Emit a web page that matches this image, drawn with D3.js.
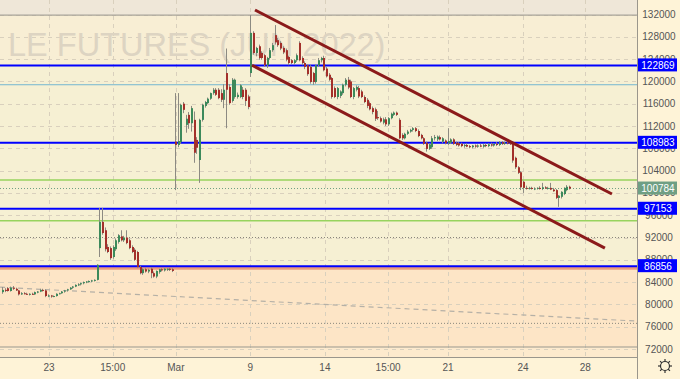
<!DOCTYPE html>
<html>
<head>
<meta charset="utf-8">
<script src="https://cdn.jsdelivr.net/npm/d3@7"></script>
<style>
	body { margin: 0; background: #fef3d7; }
	svg { display: block; }
	text { font-family: "Liberation Sans Narrow", "Liberation Sans", Arial, sans-serif; }
</style>
</head>
<body>
<div id="chart"></div>
<script>
// candles: [open, high, low, close]
const candles = [
	[82200, 83100, 81900, 82600], [82600, 82900, 82200, 82500], [82900, 83100, 82300, 82400], [82400, 83200, 82300, 83000],
	[83000, 83300, 82600, 82800], [82800, 83000, 82400, 82500], [82500, 82600, 81600, 81800], [81800, 82200, 81700, 82000],
	[82000, 82200, 81800, 81900], [81900, 82100, 81700, 81800], [81800, 82000, 81600, 81900], [81900, 82100, 81700, 81800],
	[81800, 82300, 81700, 82200], [82200, 82400, 82000, 82300], [82300, 82800, 82200, 82600], [82600, 82800, 82300, 82500],
	[82500, 82700, 81300, 81500], [81500, 81800, 81300, 81600], [81600, 81700, 81200, 81400], [81400, 81600, 81300, 81500],
	[81500, 82000, 81400, 81900], [81900, 82100, 81800, 82000], [82000, 82400, 81900, 82300], [82300, 82600, 82100, 82500],
	[82500, 82800, 82300, 82700], [82700, 83100, 82600, 83000], [83000, 83300, 82800, 83200], [83200, 83600, 83100, 83500],
	[83500, 83800, 83300, 83600], [83600, 83900, 83400, 83800], [83800, 84100, 83600, 84000], [84000, 84200, 83800, 84100],
	[84100, 84300, 83900, 84200], [84200, 84400, 84000, 84300], [84300, 84500, 84100, 84400], [84400, 87200, 84300, 87100],
	[90100, 97300, 88500, 94800], [94800, 97300, 92500, 92800], [93300, 93800, 89500, 89900], [90300, 90800, 89200, 89400],
	[90100, 90400, 88000, 88300], [88500, 90600, 88200, 90300], [89900, 91800, 89600, 91500], [91200, 92600, 90900, 92400],
	[92200, 93300, 91300, 91500], [91500, 92300, 91200, 92000], [92000, 93300, 90800, 91000], [91500, 91800, 89900, 90100],
	[90300, 90600, 89200, 89400], [89800, 90100, 87800, 88000], [89400, 89600, 86500, 86700], [86700, 86900, 85400, 85600],
	[85600, 86500, 85300, 86300], [86300, 86600, 85700, 85900], [85900, 86400, 85600, 86200], [86400, 86700, 84700, 85600],
	[85600, 85900, 84800, 85000], [85000, 86100, 84700, 86000], [85800, 86400, 85500, 86300], [86300, 86500, 85900, 86100],
	[86100, 86500, 85900, 86400], [86200, 86500, 86000, 86400], [86400, 86600, 86000, 86200], [86300, 86500, 85800, 86000],
	[109200, 117900, 100500, 108600], [108600, 117900, 108200, 109300], [109100, 116000, 108800, 115800], [116000, 116300, 114300, 114900],
	[112200, 114000, 110800, 113300], [114000, 114500, 111500, 112500], [112500, 115600, 111000, 115200], [113100, 114600, 105400, 107200],
	[109500, 110000, 107000, 108100], [105900, 113300, 101800, 113100], [113100, 116000, 112800, 115800], [115600, 116500, 115300, 116300],
	[116100, 117100, 115900, 116900], [116900, 118000, 116700, 117900], [117900, 118800, 117600, 118500], [118500, 118800, 117400, 117600],
	[118500, 118800, 116800, 117000], [117900, 118600, 116300, 116700], [116700, 119500, 115200, 118500], [121500, 125900, 111600, 118500],
	[119000, 119500, 115800, 116100], [116500, 120600, 116200, 120300], [117200, 120500, 116900, 120300], [117200, 118000, 116900, 117600],
	[117200, 119500, 117000, 119300], [118500, 119000, 116800, 117200], [118500, 118800, 115600, 116500], [117300, 117600, 115000, 115400],
	[121500, 131900, 120800, 128700], [128700, 129000, 124800, 125100], [125100, 126200, 124500, 126000], [126300, 126600, 123900, 124200],
	[125100, 125400, 123900, 124200], [124700, 124900, 122600, 122900], [122900, 124400, 122400, 124200], [124200, 126000, 123900, 125600],
	[125600, 126900, 125300, 126500], [128300, 130100, 126600, 127000], [127400, 127800, 126200, 126500], [126900, 127200, 125600, 125900],
	[126000, 126300, 124900, 125200], [125600, 125900, 123600, 123900], [124400, 124600, 122900, 123300], [123800, 124000, 123100, 123300],
	[123300, 124000, 123000, 123800], [123800, 125000, 123500, 124700], [126900, 127200, 123600, 123800], [124200, 124500, 122900, 123300],
	[123300, 123600, 122200, 122600], [122900, 123100, 121000, 121300], [122600, 122900, 119600, 119900], [121500, 121700, 119400, 119900],
	[119900, 123000, 119600, 122900], [122900, 124200, 122600, 123800], [123800, 124400, 123400, 124200], [124200, 124600, 121800, 122000],
	[122300, 122600, 120700, 120900], [121200, 121500, 120100, 120300], [120600, 120800, 116900, 117200], [118800, 119100, 117000, 117200],
	[117200, 119000, 116800, 118800], [117400, 118400, 117000, 118200], [117900, 119600, 117600, 119400], [119400, 120600, 119100, 120300],
	[120300, 120800, 118600, 118900], [120000, 120300, 117000, 117200], [117200, 119000, 116800, 118800], [118500, 119300, 118200, 119000],
	[118800, 119200, 117000, 117300], [118200, 118500, 117000, 117200], [117200, 117500, 116100, 116300], [116700, 117000, 115200, 115600],
	[116100, 116400, 114800, 115000], [115200, 115500, 114100, 114500], [115000, 115300, 112900, 113300], [113600, 114700, 113100, 113400],
	[113400, 113700, 112600, 112800], [112600, 113500, 112300, 113200], [113200, 113600, 112000, 112300], [112300, 113600, 112000, 113400],
	[113400, 114400, 113200, 114200], [114000, 114600, 113800, 114400], [114400, 114600, 113800, 114000], [113100, 113400, 109600, 109800],
	[110400, 110700, 109500, 109800], [109800, 110800, 109600, 110600], [110600, 111300, 110400, 111000], [111000, 111500, 110800, 111300],
	[111300, 111800, 111000, 111600], [111600, 111800, 110900, 111100], [111100, 111400, 110000, 110200], [110400, 110600, 109600, 109800],
	[109800, 110000, 108600, 108800], [109000, 109200, 107400, 107900], [107900, 108900, 107700, 108700], [108200, 110200, 107900, 109800],
	[109800, 110400, 109400, 110000], [109600, 110300, 109300, 110100], [110000, 110300, 109400, 109600], [109200, 110000, 108900, 109800],
	[109400, 109600, 108700, 108900], [108900, 111600, 108600, 109300], [109000, 109800, 108800, 109600], [109600, 109800, 108600, 108800],
	[109000, 109200, 108400, 108600], [108900, 109100, 108300, 108500], [108800, 109000, 108200, 108400], [108400, 108800, 108100, 108600],
	[108600, 108900, 108200, 108300], [108400, 108600, 108000, 108200], [108200, 108600, 108000, 108500], [108500, 108700, 108100, 108300],
	[108300, 108700, 108100, 108500], [108500, 108800, 108200, 108300], [108300, 108800, 108100, 108600], [108600, 108900, 108200, 108400],
	[108400, 108900, 108200, 108700], [108700, 109000, 108300, 108500], [108500, 108900, 108300, 108800], [108800, 109100, 108400, 108600],
	[108600, 109300, 108400, 109100], [109100, 109300, 108600, 108800], [108800, 109200, 108600, 109000], [109000, 109200, 108700, 108900],
	[108900, 109100, 108600, 108700], [109100, 109300, 105400, 105800], [106300, 106500, 104300, 104600], [104600, 104800, 103400, 103600],
	[103700, 103900, 100500, 101000], [102000, 102200, 100000, 100900], [100900, 101300, 100600, 100800], [100800, 101100, 100600, 100900],
	[100900, 101100, 100600, 100700], [100700, 101000, 100500, 100800], [100800, 101000, 100600, 100900], [100900, 101200, 100600, 100700],
	[100700, 101800, 100500, 101000], [101000, 101200, 100700, 100800], [100800, 101100, 100600, 100900], [100900, 101800, 100500, 100600],
	[100600, 100900, 100200, 100300], [100500, 100700, 98900, 99100], [99100, 99600, 97500, 99500], [99300, 100300, 99000, 100200],
	[99800, 101000, 99600, 100900], [100500, 101400, 100300, 101100], [101100, 101300, 100600, 100784]
];

const xTickIdx = [17.4, 41, 64.4, 92, 119.6, 143, 165.2, 193, 216];
const xTickLabels = ['23', '15:00', 'Mar', '9', '14', '15:00', '21', '24', '28'];
const yTicks = d3.range(72000, 132001, 4000);

const blueLevels = [122869, 108983, 97153, 86856];
const lastPrice = 100784;
const greenLevels = [102300, 95000];
const lightBlueLevel = 119400;
const dottedLevels = [92000, 76600];
const salmonLevel = 86470;
const topLevel = 131900;
const bottomLevel = 72360;

// channel and trend lines as [index, price] pairs
const channelUpper = [[93.7, 132800], [225.9, 99800]];
const channelLower = [[92.6, 122900], [223.3, 90100]];
const trendLine = [[-0.7, 83100], [235.2, 77000]];

const width = 680;
const height = 379;
const plotRight = 637;
const plotBottom = 357;

const svg = d3.select('#chart').append('svg')
	.attr('width', width)
	.attr('height', height);

const x = d3.scaleLinear().domain([0, 210]).range([2, 569]);
const y = d3.scaleLinear().domain([72000, 132000]).range([349, 14.5]);

// background bands
const bands = [
	[0, y(topLevel), '#efe7d8'],
	[y(topLevel), y(blueLevels[0]), '#f8eed4'],
	[y(blueLevels[0]), y(salmonLevel), '#f6f0d3'],
	[y(salmonLevel), y(bottomLevel), '#fde5c6'],
	[y(bottomLevel), plotBottom, '#fdeacd']
];
svg.append('g').selectAll('rect').data(bands).join('rect')
	.attr('x', 0).attr('width', plotRight)
	.attr('y', d => d[0]).attr('height', d => d[1] - d[0])
	.attr('fill', d => d[2]);

// grid
const grid = svg.append('g').attr('stroke', '#d9d0bd').attr('stroke-dasharray', '4,4').attr('stroke-width', 1);
grid.selectAll('line.v').data(xTickIdx).join('line')
	.attr('x1', d => Math.round(x(d)) + 0.5).attr('x2', d => Math.round(x(d)) + 0.5)
	.attr('y1', 0).attr('y2', plotBottom);
grid.selectAll('line.h').data(yTicks).join('line')
	.attr('x1', 0).attr('x2', plotRight)
	.attr('y1', d => Math.round(y(d)) + 0.5).attr('y2', d => Math.round(y(d)) + 0.5);

// watermark
svg.append('text')
	.attr('x', 8).attr('y', 56)
	.style('font-family', '"Liberation Sans", Arial, sans-serif')
	.style('font-size', '32.5px')
	.attr('fill', '#ddd4c2')
	.text('LE FUTURES (JUN 2022)');

// horizontal levels
const levels = svg.append('g');
const hline = (v, color, w, dash) => levels.append('line')
	.attr('x1', 0).attr('x2', plotRight)
	.attr('y1', y(v)).attr('y2', y(v))
	.attr('stroke', color).attr('stroke-width', w)
	.attr('stroke-dasharray', dash || null);

hline(topLevel, '#a8a49a', 1.2);
hline(bottomLevel, '#9a978e', 1.2);
hline(lightBlueLevel, '#74b6d0', 1);
greenLevels.forEach(v => hline(v, '#97d35e', 1.5));
dottedLevels.forEach(v => hline(v, '#8a877c', 1, '1,2'));
hline(salmonLevel, '#eb9b7c', 3);
hline(lastPrice, '#6f9f84', 1, '1,2');

// trend line
const lineGen = d3.line().x(d => x(d[0])).y(d => y(d[1]));
levels.append('path')
	.attr('d', lineGen(trendLine))
	.attr('fill', 'none').attr('stroke', '#b5b0a6').attr('stroke-width', 1.2)
	.attr('stroke-dasharray', '5,4');

// candles
const up = '#3c8a5b';
const down = '#a3302a';
const cg = svg.append('g');
cg.selectAll('line').data(candles).join('line')
	.attr('x1', (d, i) => Math.round(x(i)) + 0.5)
	.attr('x2', (d, i) => Math.round(x(i)) + 0.5)
	.attr('y1', d => y(d[1])).attr('y2', d => y(d[2]))
	.attr('stroke', '#8c8a82').attr('stroke-width', 1);
cg.selectAll('rect').data(candles).join('rect')
	.attr('x', (d, i) => Math.round(x(i)))
	.attr('width', 2)
	.attr('y', d => y(Math.max(d[0], d[3])))
	.attr('height', d => Math.max(1, Math.abs(y(d[0]) - y(d[3]))))
	.attr('fill', d => d[3] >= d[0] ? up : down);

// blue levels on top of candles
blueLevels.forEach(v => hline(v, '#0000ff', 2).raise());

// channel
[channelUpper, channelLower].forEach(c => {
	svg.append('path')
		.attr('d', lineGen(c))
		.attr('fill', 'none').attr('stroke', '#8b1a1a').attr('stroke-width', 3);
});

// axis panels
svg.append('rect').attr('x', plotRight).attr('y', 0).attr('width', width - plotRight).attr('height', height).attr('fill', '#fef3d7');
svg.append('rect').attr('x', 0).attr('y', plotBottom).attr('width', plotRight).attr('height', height - plotBottom).attr('fill', '#fef3d7');
svg.append('line').attr('x1', plotRight + 0.5).attr('x2', plotRight + 0.5).attr('y1', 0).attr('y2', height)
	.attr('stroke', '#9a968c').attr('stroke-width', 1);
svg.append('line').attr('x1', 0).attr('x2', plotRight).attr('y1', plotBottom + 0.5).attr('y2', plotBottom + 0.5)
	.attr('stroke', '#9a968c').attr('stroke-width', 1);

// y axis labels
svg.append('g').selectAll('text').data(yTicks).join('text')
	.attr('x', 659).attr('y', d => y(d) + 3.5)
	.attr('text-anchor', 'middle')
	.style('font-size', '10px')
	.attr('fill', '#555')
	.text(d => d);

// x axis labels
svg.append('g').selectAll('text').data(xTickIdx).join('text')
	.attr('x', d => x(d)).attr('y', 371)
	.attr('text-anchor', 'middle')
	.style('font-size', '10px')
	.attr('fill', '#555')
	.text((d, i) => xTickLabels[i]);

// price boxes
const boxes = blueLevels.map(v => ({ v, fill: '#0000ff' })).concat([{ v: lastPrice, fill: '#6f9f84' }]);
const bg = svg.append('g').selectAll('g').data(boxes).join('g')
	.attr('transform', d => `translate(638, ${y(d.v)})`);
bg.append('rect').attr('x', 0).attr('y', -7).attr('width', 39).attr('height', 13).attr('fill', d => d.fill);
bg.append('text').attr('x', 20).attr('y', 3.5).attr('text-anchor', 'middle')
	.style('font-size', '10px').attr('fill', '#fff')
	.text(d => d.v);

// settings gear
const gear = svg.append('g').attr('transform', 'translate(665, 366)')
	.attr('stroke', '#333').attr('fill', 'none').attr('stroke-width', 1.2);
gear.append('circle').attr('r', 4.5);
gear.selectAll('line').data(d3.range(8)).join('line')
	.attr('x1', d => 4.5 * Math.cos(d * Math.PI / 4)).attr('y1', d => 4.5 * Math.sin(d * Math.PI / 4))
	.attr('x2', d => 7 * Math.cos(d * Math.PI / 4)).attr('y2', d => 7 * Math.sin(d * Math.PI / 4));
</script>
</body>
</html>
